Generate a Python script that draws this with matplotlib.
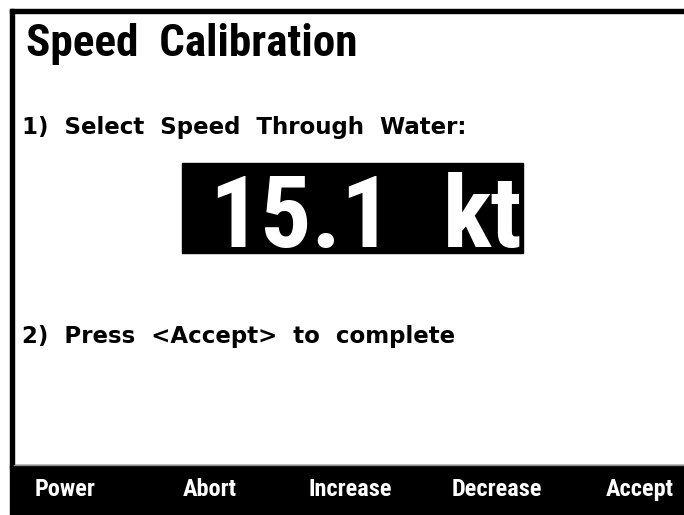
import matplotlib.pyplot as plt
import matplotlib.font_manager as fm
from matplotlib.patches import Rectangle

title = "Speed  Calibration"
step1 = "1)  Select  Speed  Through  Water:"
step2 = "2)  Press  <Accept>  to  complete"
speed_value = 15.1
speed_unit = "kt"
soft_keys = ["Power", "Abort", "Increase", "Decrease", "Accept"]
key_centers = [65, 210, 350, 497, 640]

# pick a condensed bold face if the machine has one
have = set(f.name for f in fm.fontManager.ttflist)
narrow_pref = ["Liberation Sans Narrow", "Arial Narrow", "Roboto Condensed", "Archivo Narrow",
               "PT Sans Narrow", "Barlow Semi Condensed"]
narrow = [n for n in narrow_pref if n in have][:1] + ["DejaVu Sans"]
wide = ["DejaVu Sans"]

fig = plt.figure(figsize=(6.84, 5.15), dpi=100)
ax = fig.add_axes([0, 0, 1, 1])
ax.set_xlim(0, 684)
ax.set_ylim(515, 0)
ax.axis("off")

# screen frame
ax.add_patch(Rectangle((10, 9), 680, 4, color="black"))
ax.add_patch(Rectangle((10, 9), 4, 460, color="black"))

# soft key bar
ax.add_patch(Rectangle((10, 465), 674, 50, color="black"))
ax.plot([14, 684], [464.5, 464.5], color="#888888", lw=1)

ax.text(26, 56, title, family=narrow, weight="bold", fontsize=32.5,
        ha="left", va="baseline", color="black")
ax.text(22, 134, step1, family=wide, weight="bold", fontsize=16.5,
        ha="left", va="baseline", color="black")
ax.text(22, 343, step2, family=wide, weight="bold", fontsize=16.5,
        ha="left", va="baseline", color="black")

# highlighted value
ax.add_patch(Rectangle((182, 163), 341, 90, color="black"))
ax.text(392, 247, f"{speed_value:.1f}", family=narrow, weight="bold",
        fontsize=73, ha="right", va="baseline", color="white")
ax.text(523, 247, speed_unit, family=narrow, weight="bold",
        fontsize=73, ha="right", va="baseline", color="white")

for label, xc in zip(soft_keys, key_centers):
    ax.text(xc, 496, label, family=narrow, weight="bold", fontsize=17.5,
            ha="center", va="baseline", color="white")

fig.savefig("out.png", dpi=100)
